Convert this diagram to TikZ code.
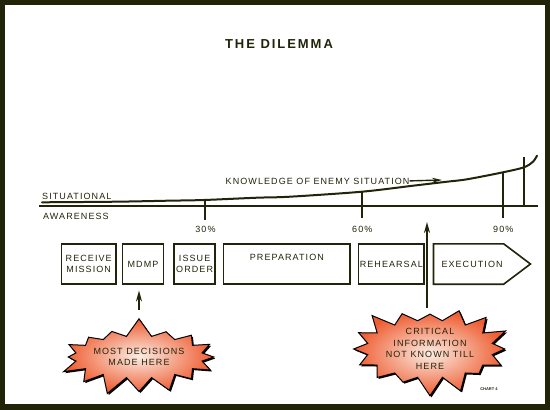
\documentclass[tikz,border=0pt]{standalone}
\usepackage{fontspec}
\setmainfont{Liberation Sans}
\newfontfamily\spaced[LetterSpace=12]{Liberation Sans}
\newfontfamily\titlefont[LetterSpace=15]{Liberation Sans}
\usetikzlibrary{positioning, shapes.symbols, arrows.meta, shadows}
\definecolor{ink}{RGB}{34,36,10}
\definecolor{burst}{RGB}{238,92,48}
\definecolor{burstmid}{RGB}{251,236,228}
\tikzstyle{stage} = [rectangle, draw=ink, line width=1.6pt, minimum height=40.4pt, inner sep=1pt, align=center, text=ink, font=\spaced\fontsize{9}{10.7}\selectfont]
\tikzstyle{laststage} = [signal, signal to=east, signal pointer angle=74, draw=ink, line width=1.6pt, minimum height=40.4pt, minimum width=85.7pt, inner sep=1pt, text=ink, font=\spaced\fontsize{9}{10.7}\selectfont]
\tikzstyle{boom} = [starburst, starburst points=16, starburst point height=19pt, random starburst=7, draw=black, line width=1pt, inner color=burstmid, outer color=burst, drop shadow={shadow xshift=1.5pt, shadow yshift=-1.5pt, opacity=1, fill=black}, align=center, inner sep=0pt, text=ink, font=\spaced\fontsize{9}{11.5}\selectfont]
\tikzstyle{txt} = [inner sep=0pt, text=ink, font=\spaced\fontsize{9}{11}\selectfont]
\tikzstyle{rule} = [draw=ink, line width=2pt]
\tikzstyle{arrow} = [->, >={Stealth[length=11pt,width=6pt]}, draw=ink, line width=1.8pt]

\begin{document}
\begin{tikzpicture}[x=1pt, y=-1pt]
    % frame
    \fill[ink] (0,0) rectangle (550,410);
    \fill[white] (5,5) rectangle (545,404);

    \node (title) [text=ink, font=\titlefont\bfseries\fontsize{13}{15}\selectfont] at (279,44) {THE DILEMMA};

    % awareness curve
    \draw[rule] (39,205.5) -- (538,205.5);
    \draw[rule, line cap=round] plot[smooth, tension=0.5] coordinates {(42,202.3) (116,201.7) (168,200.7) (204,200) (257,197.7) (290,196.7) (362,191.7) (413,185.7) (447,181.7) (467,179.3) (503,172.3) (524,167.3) (533,161.7) (537,155.7)};
    \draw[rule] (204.5,200) -- (204.5,220);
    \draw[rule] (362,191.7) -- (362,218);
    \draw[rule] (503,172.3) -- (503,218);
    \draw[rule] (524,157) -- (524,205.5);

    \node (sit) [txt, anchor=base west] at (42,199.5) {SITUATIONAL};
    \node (awa) [txt, anchor=base west] at (43,219.3) {AWARENESS};
    \node (know) [txt, anchor=base west] at (225.5,184) {KNOWLEDGE OF ENEMY SITUATION};
    \coordinate (knowtip) at (442,180);
    \draw[arrow, line width=1.4pt, >={Stealth[length=10pt,width=5pt]}] (know.east) -- (knowtip);

    \node (p30) [txt, anchor=base] at (205.5,232.3) {30\%};
    \node (p60) [txt, anchor=base] at (362.3,232.3) {60\%};
    \node (p90) [txt, anchor=base] at (503.3,232.3) {90\%};

    % stages
    \node (rm) [stage, minimum width=54.4pt] at (88.7,264) {RECEIVE\\MISSION};
    \node (mdmp) [stage, minimum width=41pt, right=5pt of rm] {MDMP};
    \node (io) [stage, minimum width=41.1pt, right=9pt of mdmp] {ISSUE\\ORDER};
    \node (prep) [stage, minimum width=126.7pt, right=6.7pt of io] {PREPARATION\\[3pt]};
    \node (reh) [stage, minimum width=65.7pt, right=6.7pt of prep] {REHEARSAL};
    \node (exe) [laststage, right=7.7pt of reh] {\hspace{7pt}EXECUTION\hspace{13pt}};

    % bursts
    \node (most) [boom, minimum width=148pt, minimum height=80pt] at (139,357) {MOST DECISIONS\\MADE HERE};
    \node (crit) [boom, minimum width=165pt, minimum height=82pt, random starburst=3] at (430,349) {CRITICAL\\INFORMATION\\NOT KNOWN TILL\\HERE};
    \node (chart) [text=ink, font=\bfseries\fontsize{4}{5}\selectfont] at (489,389) {CHART 4};

    \coordinate (critpt) at (427,222);
    \draw[arrow] ([yshift=8pt]most.north) -- ([yshift=-5.5pt]most.north |- mdmp.south);
    \draw[arrow] ([yshift=6pt]crit.north -| critpt) -- (critpt);
\end{tikzpicture}
\end{document}
